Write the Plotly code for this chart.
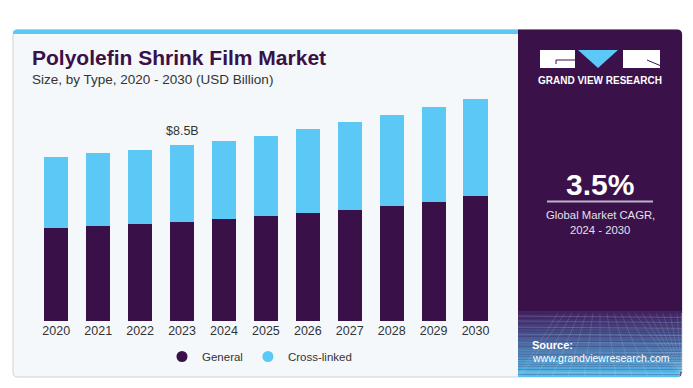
import plotly.graph_objects as go

years = ["2020", "2021", "2022", "2023", "2024", "2025", "2026", "2027", "2028", "2029", "2030"]
general = [4.52, 4.59, 4.71, 4.78, 4.93, 5.07, 5.22, 5.39, 5.58, 5.78, 6.04]
cross_linked = [3.40, 3.55, 3.58, 3.72, 3.79, 3.89, 4.07, 4.22, 4.38, 4.56, 4.71]
series_names = ["General", "Cross-linked"]
highlight_year = "2023"
highlight_label = "$8.5B"

OFF = 8  # page body margin
W, H = 693 - OFF, 388 - OFF
PURPLE = "#3a1048"
BLUE = "#5bc8f5"
FONT = "Liberation Sans"


def px(x):
    return (x - OFF) / W


def py(y):
    return 1 - (y - OFF) / H


def rounded_path(x0, y0, x1, y1, rtl=0, rtr=0, rbr=0, rbl=0):
    pts = []
    pts.append(f"M {px(x0 + rtl)},{py(y0)}")
    pts.append(f"L {px(x1 - rtr)},{py(y0)}")
    if rtr:
        pts.append(f"Q {px(x1)},{py(y0)} {px(x1)},{py(y0 + rtr)}")
    pts.append(f"L {px(x1)},{py(y1 - rbr)}")
    if rbr:
        pts.append(f"Q {px(x1)},{py(y1)} {px(x1 - rbr)},{py(y1)}")
    pts.append(f"L {px(x0 + rbl)},{py(y1)}")
    if rbl:
        pts.append(f"Q {px(x0)},{py(y1)} {px(x0)},{py(y1 - rbl)}")
    pts.append(f"L {px(x0)},{py(y0 + rtl)}")
    if rtl:
        pts.append(f"Q {px(x0)},{py(y0)} {px(x0 + rtl)},{py(y0)}")
    pts.append("Z")
    return " ".join(pts)


fig = go.Figure()
fig.add_trace(go.Bar(x=years, y=general, name=series_names[0], marker=dict(color=PURPLE, line=dict(width=0)),
                     showlegend=False))
fig.add_trace(go.Bar(x=years, y=cross_linked, name=series_names[1], marker=dict(color=BLUE, line=dict(width=0)),
                     showlegend=False))
# legend entries with round markers, on hidden axes (no data drawn)
fig.add_trace(go.Scatter(x=[None], y=[None], mode="markers", name=series_names[0], xaxis="x2", yaxis="y2",
                         marker=dict(color=PURPLE, size=11, symbol="circle")))
fig.add_trace(go.Scatter(x=[None], y=[None], mode="markers", name=series_names[1], xaxis="x2", yaxis="y2",
                         marker=dict(color=BLUE, size=11, symbol="circle")))

totals = [g + c for g, c in zip(general, cross_linked)]
hi = years.index(highlight_year)

shapes = []
shapes.append(dict(type="path", path=rounded_path(13, 30, 682, 377, 5, 5, 5, 5), xref="paper", yref="paper",
                   fillcolor="#f4f8fb", line=dict(color="#cfd2d6", width=1), layer="below"))
shapes.append(dict(type="path", path=rounded_path(13, 29.5, 519, 34, 4, 0, 0, 0), xref="paper", yref="paper",
                   fillcolor=BLUE, line=dict(width=0), layer="below"))
shapes.append(dict(type="path", path=rounded_path(518, 29.5, 682, 377, 0, 5, 5, 0), xref="paper", yref="paper",
                   fillcolor="#3b1149", line=dict(width=0), layer="below"))
n = 26
y_start, y_end = 311, 377
c0 = (66, 36, 100)
c1 = (86, 190, 238)
for i in range(n):
    t = i / (n - 1)
    col = tuple(int(c0[k] + (c1[k] - c0[k]) * (t ** 1.1)) for k in range(3))
    ya = y_start + (y_end - y_start) * i / n
    yb = y_start + (y_end - y_start) * (i + 1) / n
    xr = 682 if i < n - 2 else 680
    shapes.append(dict(type="rect", xref="paper", yref="paper", x0=px(518), x1=px(xr), y0=py(yb), y1=py(ya),
                       fillcolor="rgb(%d,%d,%d)" % col, line=dict(width=0), layer="below"))
hy = [316, 321, 327, 334, 342, 351, 361, 372]
for yy in hy:
    shapes.append(dict(type="line", xref="paper", yref="paper", x0=px(518), x1=px(682), y0=py(yy), y1=py(yy + 1.5),
                       line=dict(color="rgba(255,255,255,0.16)", width=1), layer="below"))
for k in range(-6, 16):
    xt = 600 + k * 7
    xb = 600 + k * 16
    shapes.append(dict(type="line", xref="paper", yref="paper", x0=px(max(518, min(682, xt))), y0=py(313),
                       x1=px(max(518, min(682, xb))), y1=py(377),
                       line=dict(color="rgba(255,255,255,0.12)", width=1), layer="below"))
shapes.append(dict(type="rect", xref="paper", yref="paper", x0=px(540), x1=px(575), y0=py(68), y1=py(50),
                   fillcolor="white", line=dict(width=0)))
shapes.append(dict(type="path", xref="paper", yref="paper",
                   path=f"M {px(578)},{py(50)} L {px(618)},{py(50)} L {px(598)},{py(68)} Z",
                   fillcolor=BLUE, line=dict(width=0)))
shapes.append(dict(type="rect", xref="paper", yref="paper", x0=px(623), x1=px(660), y0=py(68), y1=py(50),
                   fillcolor="white", line=dict(width=0)))
shapes.append(dict(type="path", xref="paper", yref="paper",
                   path=f"M {px(575)},{py(60)} L {px(556)},{py(60)} L {px(556)},{py(64)}",
                   line=dict(color="#3b1149", width=1)))
shapes.append(dict(type="line", xref="paper", yref="paper", x0=px(647), y0=py(60), x1=px(660), y1=py(65.5),
                   line=dict(color="#3b1149", width=1)))
shapes.append(dict(type="line", xref="paper", yref="paper", x0=px(547), x1=px(653), y0=py(201.5), y1=py(201.5),
                   line=dict(color="#bdb3c8", width=2)))

annotations = [
    dict(text="<b>Polyolefin Shrink Film Market</b>", x=px(30), y=py(58), xref="paper", yref="paper",
         xanchor="left", yanchor="middle", showarrow=False, font=dict(family=FONT, size=21, color=PURPLE)),
    dict(text="Size, by Type, 2020 - 2030 (USD Billion)", x=px(30), y=py(79), xref="paper", yref="paper",
         xanchor="left", yanchor="middle", showarrow=False, font=dict(family=FONT, size=13.5, color="#333333")),
    dict(text=highlight_label, x=hi, y=totals[hi], xref="x", yref="y", yshift=5,
         xanchor="center", yanchor="bottom", showarrow=False, font=dict(family=FONT, size=12.5, color="#333333")),
    dict(text="<b>GRAND VIEW RESEARCH</b>", x=px(600), y=py(80), xref="paper", yref="paper",
         xanchor="center", yanchor="middle", showarrow=False, font=dict(family=FONT, size=10, color="white")),
    dict(text="<b>3.5%</b>", x=px(600), y=py(184), xref="paper", yref="paper",
         xanchor="center", yanchor="middle", showarrow=False, font=dict(family=FONT, size=30, color="white")),
    dict(text="Global Market CAGR,", x=px(600), y=py(215), xref="paper", yref="paper",
         xanchor="center", yanchor="middle", showarrow=False, font=dict(family=FONT, size=11.3, color="#e4e0ea")),
    dict(text="2024 - 2030", x=px(600), y=py(230), xref="paper", yref="paper",
         xanchor="center", yanchor="middle", showarrow=False, font=dict(family=FONT, size=11.3, color="#e4e0ea")),
    dict(text="<b>Source:</b>", x=px(530), y=py(345), xref="paper", yref="paper",
         xanchor="left", yanchor="middle", showarrow=False, font=dict(family=FONT, size=11, color="white")),
    dict(text="www.grandviewresearch.com", x=px(530), y=py(358), xref="paper", yref="paper",
         xanchor="left", yanchor="middle", showarrow=False, font=dict(family=FONT, size=10.5, color="white")),
]

fig.update_layout(
    width=W, height=H,
    margin=dict(l=0, r=0, t=0, b=0, pad=0, autoexpand=False),
    paper_bgcolor="white",
    plot_bgcolor="rgba(0,0,0,0)",
    barmode="stack",
    bargap=0.425,
    shapes=shapes,
    annotations=annotations,
    showlegend=True,
    legend=dict(orientation="h", traceorder="normal", x=px(162), y=py(356.5), xanchor="left", yanchor="middle",
                bgcolor="rgba(0,0,0,0)", font=dict(family=FONT, size=11.5, color="#333333")),
    xaxis=dict(domain=[px(35.3), px(496.5)], type="category", categoryorder="array", categoryarray=years,
               range=[-0.5, len(years) - 0.5], showgrid=False, zeroline=False, showline=False,
               ticks="", tickfont=dict(family=FONT, size=12.5, color="#333333"), fixedrange=True, automargin=False),
    yaxis=dict(domain=[py(321.3), py(90)], range=[0, 231.3 * 8.5 / 176], showgrid=False, zeroline=False,
               showline=False, showticklabels=False, ticks="", fixedrange=True, automargin=False),
    xaxis2=dict(visible=False, overlaying="x", range=[0, 1], fixedrange=True),
    yaxis2=dict(visible=False, overlaying="y", range=[0, 1], fixedrange=True),
    font=dict(family=FONT),
)

fig.write_html("out.html")
